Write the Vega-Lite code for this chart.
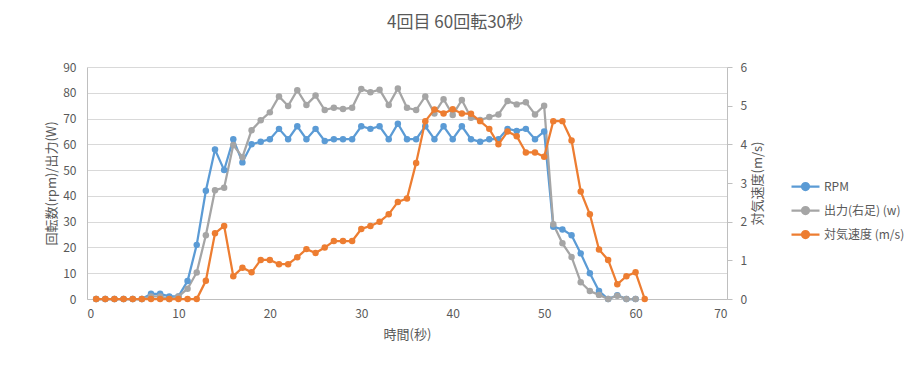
{
  "$schema": "https://vega.github.io/schema/vega-lite/v6.json",
  "width": 640,
  "height": 232,
  "autosize": {"type": "none"},
  "padding": {"left": 87, "top": 67, "right": 186, "bottom": 81},
  "background": "white",
  "title": {
    "text": "4回目 60回転30秒",
    "anchor": "middle",
    "frame": "group",
    "dx": 48,
    "offset": 29,
    "fontSize": 17,
    "fontWeight": "normal",
    "color": "#595959",
    "font": "Noto Sans CJK JP"
  },
  "config": {
    "font": "Noto Sans CJK JP",
    "view": {"stroke": null},
    "axis": {
      "labelColor": "#595959",
      "labelFontSize": 12,
      "titleColor": "#595959",
      "titleFontSize": 13,
      "titleFontWeight": "normal",
      "domainColor": "#bfbfbf",
      "tickColor": "#bfbfbf",
      "gridColor": "#d9d9d9"
    }
  },
  "data": {
    "values": [
      {"t": 1, "RPM": 0, "出力(右足) (w)": 0, "対気速度 (m/s)": 0},
      {"t": 2, "RPM": 0, "出力(右足) (w)": 0, "対気速度 (m/s)": 0},
      {"t": 3, "RPM": 0, "出力(右足) (w)": 0, "対気速度 (m/s)": 0},
      {"t": 4, "RPM": 0, "出力(右足) (w)": 0, "対気速度 (m/s)": 0},
      {"t": 5, "RPM": 0, "出力(右足) (w)": 0, "対気速度 (m/s)": 0},
      {"t": 6, "RPM": 0, "出力(右足) (w)": 0, "対気速度 (m/s)": 0},
      {"t": 7, "RPM": 2, "出力(右足) (w)": 1, "対気速度 (m/s)": 0},
      {"t": 8, "RPM": 2, "出力(右足) (w)": 1, "対気速度 (m/s)": 0},
      {"t": 9, "RPM": 1, "出力(右足) (w)": 0, "対気速度 (m/s)": 0},
      {"t": 10, "RPM": 1, "出力(右足) (w)": 1, "対気速度 (m/s)": 0},
      {"t": 11, "RPM": 7, "出力(右足) (w)": 4, "対気速度 (m/s)": 0},
      {"t": 12, "RPM": 21, "出力(右足) (w)": 10.3, "対気速度 (m/s)": 0},
      {"t": 13, "RPM": 42, "出力(右足) (w)": 24.7, "対気速度 (m/s)": 0.47},
      {"t": 14, "RPM": 58, "出力(右足) (w)": 42.2, "対気速度 (m/s)": 1.7},
      {"t": 15, "RPM": 50, "出力(右足) (w)": 43.2, "対気速度 (m/s)": 1.89},
      {"t": 16, "RPM": 62, "出力(右足) (w)": 59.7, "対気速度 (m/s)": 0.59},
      {"t": 17, "RPM": 53, "出力(右足) (w)": 55, "対気速度 (m/s)": 0.81},
      {"t": 18, "RPM": 60, "出力(右足) (w)": 65.5, "対気速度 (m/s)": 0.69},
      {"t": 19, "RPM": 61, "出力(右足) (w)": 69.3, "対気速度 (m/s)": 1.01},
      {"t": 20, "RPM": 62, "出力(右足) (w)": 72.4, "対気速度 (m/s)": 1.01},
      {"t": 21, "RPM": 66, "出力(右足) (w)": 78.6, "対気速度 (m/s)": 0.9},
      {"t": 22, "RPM": 62, "出力(右足) (w)": 74.9, "対気速度 (m/s)": 0.9},
      {"t": 23, "RPM": 67, "出力(右足) (w)": 81, "対気速度 (m/s)": 1.08},
      {"t": 24, "RPM": 62, "出力(右足) (w)": 75.3, "対気速度 (m/s)": 1.29},
      {"t": 25, "RPM": 66, "出力(右足) (w)": 78.9, "対気速度 (m/s)": 1.19},
      {"t": 26, "RPM": 61.3, "出力(右足) (w)": 73.3, "対気速度 (m/s)": 1.33},
      {"t": 27, "RPM": 62, "出力(右足) (w)": 74.2, "対気速度 (m/s)": 1.5},
      {"t": 28, "RPM": 62, "出力(右足) (w)": 73.7, "対気速度 (m/s)": 1.5},
      {"t": 29, "RPM": 62, "出力(右足) (w)": 74.2, "対気速度 (m/s)": 1.5},
      {"t": 30, "RPM": 67, "出力(右足) (w)": 81.5, "対気速度 (m/s)": 1.81},
      {"t": 31, "RPM": 66, "出力(右足) (w)": 80.2, "対気速度 (m/s)": 1.89},
      {"t": 32, "RPM": 67, "出力(右足) (w)": 81.2, "対気速度 (m/s)": 2.0},
      {"t": 33, "RPM": 62, "出力(右足) (w)": 75.3, "対気速度 (m/s)": 2.19},
      {"t": 34, "RPM": 68, "出力(右足) (w)": 81.7, "対気速度 (m/s)": 2.51},
      {"t": 35, "RPM": 62, "出力(右足) (w)": 74.2, "対気速度 (m/s)": 2.6},
      {"t": 36, "RPM": 62, "出力(右足) (w)": 73.3, "対気速度 (m/s)": 3.52},
      {"t": 37, "RPM": 67, "出力(右足) (w)": 78.6, "対気速度 (m/s)": 4.6},
      {"t": 38, "RPM": 62, "出力(右足) (w)": 72, "対気速度 (m/s)": 4.9},
      {"t": 39, "RPM": 67, "出力(右足) (w)": 77.5, "対気速度 (m/s)": 4.8},
      {"t": 40, "RPM": 62, "出力(右足) (w)": 71.4, "対気速度 (m/s)": 4.91},
      {"t": 41, "RPM": 67, "出力(右足) (w)": 77.2, "対気速度 (m/s)": 4.8},
      {"t": 42, "RPM": 62, "出力(右足) (w)": 70.3, "対気速度 (m/s)": 4.79},
      {"t": 43, "RPM": 61, "出力(右足) (w)": 69.4, "対気速度 (m/s)": 4.6},
      {"t": 44, "RPM": 62, "出力(右足) (w)": 70.6, "対気速度 (m/s)": 4.4},
      {"t": 45, "RPM": 62, "出力(右足) (w)": 71.6, "対気速度 (m/s)": 4.0},
      {"t": 46, "RPM": 66, "出力(右足) (w)": 76.8, "対気速度 (m/s)": 4.33},
      {"t": 47, "RPM": 65.2, "出力(右足) (w)": 75.5, "対気速度 (m/s)": 4.21},
      {"t": 48, "RPM": 66, "出力(右足) (w)": 76.3, "対気速度 (m/s)": 3.79},
      {"t": 49, "RPM": 62, "出力(右足) (w)": 71.6, "対気速度 (m/s)": 3.79},
      {"t": 50, "RPM": 65, "出力(右足) (w)": 75, "対気速度 (m/s)": 3.68},
      {"t": 51, "RPM": 28, "出力(右足) (w)": 29, "対気速度 (m/s)": 4.6},
      {"t": 52, "RPM": 27, "出力(右足) (w)": 21.6, "対気速度 (m/s)": 4.6},
      {"t": 53, "RPM": 24.7, "出力(右足) (w)": 16.3, "対気速度 (m/s)": 4.1},
      {"t": 54, "RPM": 17.7, "出力(右足) (w)": 6.5, "対気速度 (m/s)": 2.78},
      {"t": 55, "RPM": 10, "出力(右足) (w)": 3.1, "対気速度 (m/s)": 2.19},
      {"t": 56, "RPM": 3.1, "出力(右足) (w)": 1.6, "対気速度 (m/s)": 1.28},
      {"t": 57, "RPM": 0, "出力(右足) (w)": 0, "対気速度 (m/s)": 1.01},
      {"t": 58, "RPM": 1.5, "出力(右足) (w)": 1.3, "対気速度 (m/s)": 0.38},
      {"t": 59, "RPM": 0, "出力(右足) (w)": 0, "対気速度 (m/s)": 0.59},
      {"t": 60, "RPM": 0, "出力(右足) (w)": 0, "対気速度 (m/s)": 0.69},
      {"t": 61, "RPM": null, "出力(右足) (w)": null, "対気速度 (m/s)": 0}
    ]
  },
  "layer": [
    {
      "transform": [
        {"fold": ["RPM", "出力(右足) (w)"], "as": ["series", "value"]},
        {"filter": "datum.value != null"}
      ],
      "mark": {"type": "line", "strokeWidth": 2.25, "point": {"filled": true, "size": 42}},
      "encoding": {
        "x": {
          "field": "t",
          "type": "quantitative",
          "scale": {"domain": [0, 70], "nice": false},
          "axis": {
            "values": [0, 10, 20, 30, 40, 50, 60, 70],
            "title": "時間(秒)",
            "grid": false,
            "ticks": false,
            "labelPadding": 9,
            "titlePadding": 9
          }
        },
        "y": {
          "field": "value",
          "type": "quantitative",
          "scale": {"domain": [0, 90], "nice": false},
          "axis": {
            "orient": "left",
            "values": [0, 10, 20, 30, 40, 50, 60, 70, 80, 90],
            "title": "回転数(rpm)/出力(W)",
            "grid": true,
            "ticks": false,
            "labelPadding": 11,
            "titlePadding": 4
          }
        },
        "color": {
          "field": "series",
          "type": "nominal",
          "scale": {
            "domain": ["RPM", "出力(右足) (w)", "対気速度 (m/s)"],
            "range": ["#5B9BD5", "#A5A5A5", "#ED7D31"]
          },
          "sort": ["RPM", "出力(右足) (w)", "対気速度 (m/s)"],
          "legend": {
            "title": null,
            "orient": "none",
            "legendX": 703,
            "legendY": 104,
            "symbolType": "M-1,0L1,0M0.25,0A0.25,0.25,0,1,1,-0.25,0A0.25,0.25,0,1,1,0.25,0Z",
            "symbolSize": 784,
            "symbolStrokeWidth": 2.25,
            "rowPadding": -5.5,
            "labelOffset": 3,
            "labelFontSize": 12,
            "labelColor": "#595959",
            "encode": {
              "symbols": {
                "update": {
                  "fill": {"scale": "color", "field": "value"},
                  "stroke": {"scale": "color", "field": "value"}
                }
              }
            }
          }
        }
      }
    },
    {
      "transform": [
        {"fold": ["対気速度 (m/s)"], "as": ["series", "value"]}
      ],
      "mark": {"type": "line", "strokeWidth": 2.25, "point": {"filled": true, "size": 42}},
      "encoding": {
        "x": {"field": "t", "type": "quantitative"},
        "y": {
          "field": "value",
          "type": "quantitative",
          "scale": {"domain": [0, 6], "nice": false},
          "axis": {
            "orient": "right",
            "values": [0, 1, 2, 3, 4, 5, 6],
            "title": "対気速度(m/s)",
            "titleAngle": 270,
            "grid": false,
            "ticks": true,
            "tickSize": 5,
            "labelPadding": 8,
            "titlePadding": 18
          }
        },
        "color": {"field": "series", "type": "nominal"}
      }
    }
  ],
  "resolve": {"scale": {"y": "independent"}}
}
